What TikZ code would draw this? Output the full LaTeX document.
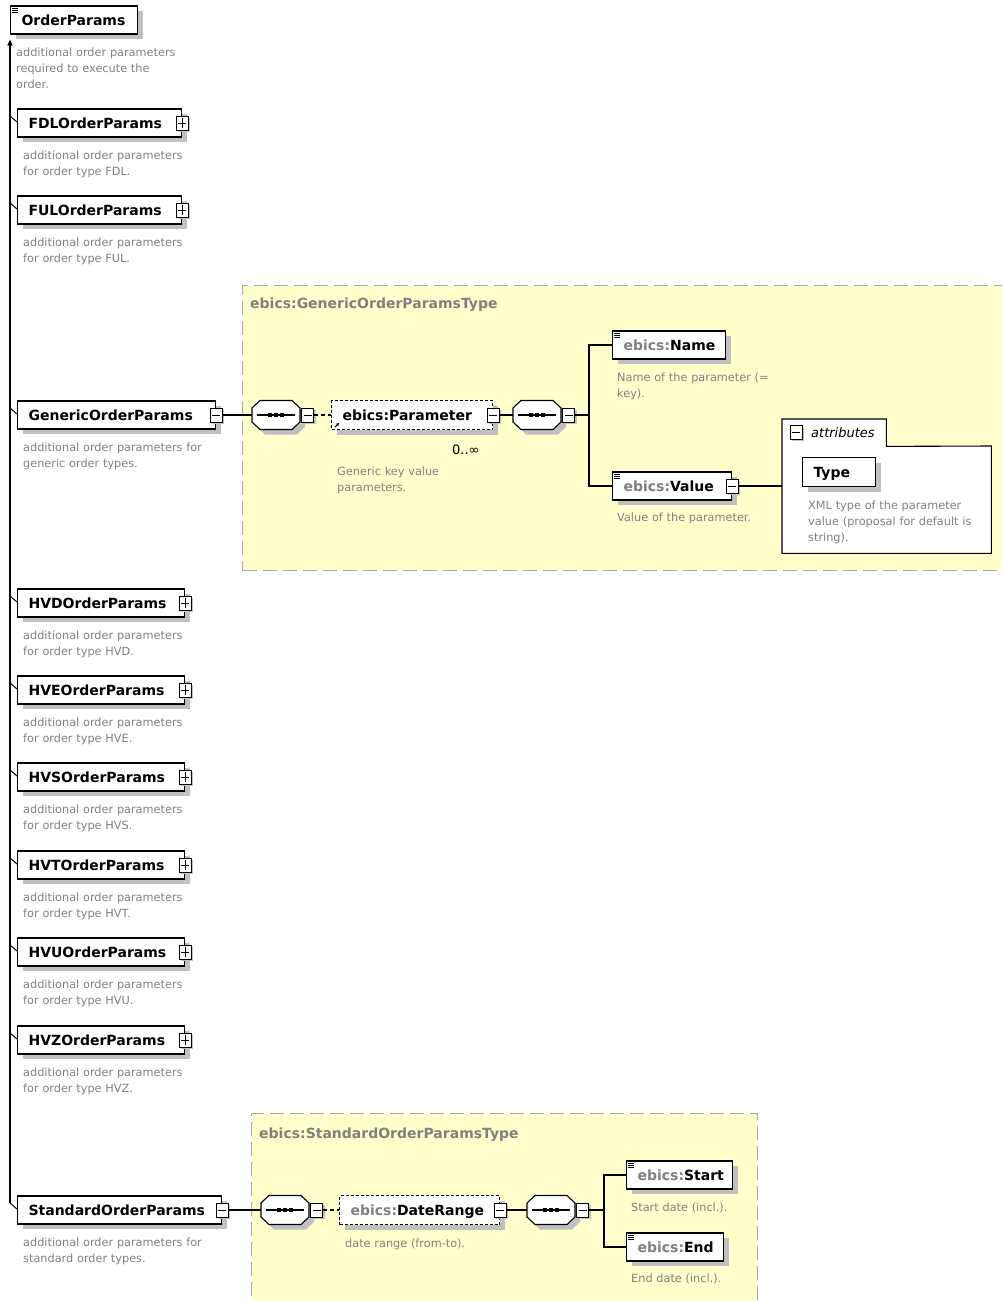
\documentclass[tikz,border=0pt]{standalone}
\usepackage{fontspec}
\setmainfont{DejaVu Sans}
\usetikzlibrary{arrows.meta}
\definecolor{ylw}{HTML}{FFFFCC}
\definecolor{shgray}{HTML}{C0C0C0}
\definecolor{dgray}{HTML}{808080}
\definecolor{bgray}{HTML}{A8A8A8}
\tikzset{
  shad/.style={preaction={fill=shgray, draw=none, transform canvas={shift={(#1,-#1)}}}},
  elem/.style={draw, fill=white, line width=1.1pt, inner xsep=11pt, inner ysep=0pt,
    minimum height=28pt, anchor=west, align=left, text width=#1, text height=10pt,
    text depth=0pt, font=\bfseries\fontsize{14}{16}\selectfont, shad=5pt},
  elemdash/.style={elem=#1, dash pattern=on 3pt off 2pt, minimum height=29pt},
  xbox/.style={draw, fill=white, line width=0.9pt, minimum width=12pt, minimum height=14pt,
    inner sep=0pt, shad=2pt},
  xminus/.style={xbox, path picture={\draw[line width=0.9pt]
      ([xshift=2pt]path picture bounding box.west) -- ([xshift=-2pt]path picture bounding box.east);}},
  xplus/.style={xbox, path picture={\draw[line width=0.9pt]
      ([xshift=2pt]path picture bounding box.west) -- ([xshift=-2pt]path picture bounding box.east);
      \draw[line width=0.9pt]
      ([yshift=-2pt]path picture bounding box.north) -- ([yshift=2pt]path picture bounding box.south);}},
  desc/.style={anchor=base west, align=left, inner sep=0pt, text=dgray, text width=#1,
    font=\fontsize{11.3}{16}\selectfont},
  ttl/.style={anchor=base west, inner sep=0pt, text=dgray, font=\bfseries\fontsize{14}{16}\selectfont},
  typebox/.style={draw=bgray, fill=ylw, line width=1.2pt, dash pattern=on 14pt off 6pt,
    anchor=north west, inner sep=0pt},
  conn/.style={line width=1.1pt}
}
\newcommand\docicon[1]{%
  \foreach \dy in {2.5,4.5,6.5}{\draw[line width=0.7pt] ([shift={(2,\dy)}]#1.north west) -- ++(6,0);}}
\newcommand\seqcomp[3]{%
  \node[minimum width=48pt, minimum height=29pt, inner sep=0pt] (#1) at (#2,#3) {};
  \begin{scope}[shift={(#2,#3)}]
    \fill[shgray] (-19,-2)--(-19,12)--(-11,19.5)--(21,19.5)--(29,12)--(29,-2)--(21,-9.5)--(-11,-9.5)--cycle;
    \draw[fill=white, line width=1.1pt] (-24,-7)--(-24,7)--(-16,14.5)--(16,14.5)--(24,7)--(24,-7)--(16,-14.5)--(-16,-14.5)--cycle;
    \draw[line width=1.1pt] (-19,0)--(19,0);
    \foreach \dx in {-6,0,6} \fill (\dx-2.2,-2.2) rectangle (\dx+2.2,2.2);
  \end{scope}}
\begin{document}
\begin{tikzpicture}[x=1pt,y=-1pt]
\useasboundingbox (0,0) rectangle (1002,1301);
\clip (0,0) rectangle (1002,1301);

% type containers
\node[typebox, minimum width=770pt, minimum height=285pt] (gtype) at (242,285) {};
\node[ttl] (gtitle) at (250,308) {ebics:GenericOrderParamsType};
\node[typebox, minimum width=506pt, minimum height=200pt] (stype) at (251,1113) {};
\node[ttl] (stitle) at (259,1138) {ebics:StandardOrderParamsType};

% root
\node[elem=105pt] (op) at (10,20) {OrderParams};
\docicon{op}
\node[desc=180pt] (dop) at (16,56) {additional order parameters\\required to execute the\\order.};

% children
\node[elem=142pt] (fdl) at (17,123) {FDLOrderParams};
\node[xplus] (fdlx) at (fdl.east) {};
\node[desc=180pt] (dfdl) at (23,159) {additional order parameters\\for order type FDL.};

\node[elem=142pt] (ful) at (17,210) {FULOrderParams};
\node[xplus] (fulx) at (ful.east) {};
\node[desc=180pt] (dful) at (23,246) {additional order parameters\\for order type FUL.};

\node[elem=176pt] (gen) at (17,415) {GenericOrderParams};
\node[xminus] (genx) at (gen.east) {};
\node[desc=200pt] (dgen) at (23,451) {additional order parameters for\\generic order types.};

\node[elem=145pt] (hvd) at (17,603) {HVDOrderParams};
\node[xplus] (hvdx) at (hvd.east) {};
\node[desc=180pt] (dhvd) at (23,639) {additional order parameters\\for order type HVD.};

\node[elem=145pt] (hve) at (17,690) {HVEOrderParams};
\node[xplus] (hvex) at (hve.east) {};
\node[desc=180pt] (dhve) at (23,726) {additional order parameters\\for order type HVE.};

\node[elem=145pt] (hvs) at (17,777) {HVSOrderParams};
\node[xplus] (hvsx) at (hvs.east) {};
\node[desc=180pt] (dhvs) at (23,813) {additional order parameters\\for order type HVS.};

\node[elem=145pt] (hvt) at (17,865) {HVTOrderParams};
\node[xplus] (hvtx) at (hvt.east) {};
\node[desc=180pt] (dhvt) at (23,901) {additional order parameters\\for order type HVT.};

\node[elem=145pt] (hvu) at (17,952) {HVUOrderParams};
\node[xplus] (hvux) at (hvu.east) {};
\node[desc=180pt] (dhvu) at (23,988) {additional order parameters\\for order type HVU.};

\node[elem=145pt] (hvz) at (17,1040) {HVZOrderParams};
\node[xplus] (hvzx) at (hvz.east) {};
\node[desc=180pt] (dhvz) at (23,1076) {additional order parameters\\for order type HVZ.};

\node[elem=182pt] (std) at (17,1210) {StandardOrderParams};
\node[xminus] (stdx) at (std.east) {};
\node[desc=200pt] (dstd) at (23,1246) {additional order parameters for\\standard order types.};

% trunk
\coordinate (trunkend) at (10,1203);
\draw[conn, -{Triangle[length=6pt,width=5pt]}] (trunkend) -- ([yshift=-5pt]op.south west);
\foreach \n in {fdl,ful,gen,hvd,hve,hvs,hvt,hvu,hvz,std}
  \draw[line width=1pt] ([shift={(-7,-7)}]\n.west) -- ([shift={(0,-1)}]\n.west);

% generic content
\seqcomp{s1}{276}{415}
\node[xminus, anchor=west] (s1x) at ([xshift=1pt]s1.east) {};
\node[elemdash=139pt, minimum height=29pt] (param) at (331,415) {ebics:Parameter};
\node[xminus] (paramx) at (param.east) {};
\draw[line width=1pt, -{Stealth[length=3pt,width=3.5pt]}] ([shift={(4,-3)}]param.south west) -- ++(4,-4);
\node[anchor=base west, inner sep=0pt, font=\fontsize{13}{15}\selectfont] (occ) at (452,454) {0..∞};
\node[desc=150pt] (dparam) at (337,475) {Generic key value\\parameters.};
\seqcomp{s2}{537}{415}
\node[xminus, anchor=west] (s2x) at ([xshift=1pt]s2.east) {};
\coordinate (gj) at (589,415);
\node[elem=91pt] (name) at (612,345) {{\color{dgray}ebics:}Name};
\docicon{name}
\node[desc=180pt] (dname) at (617,381) {Name of the parameter (=\\key).};
\node[elem=97pt] (value) at (612,486) {{\color{dgray}ebics:}Value};
\docicon{value}
\node[xminus] (valx) at (value.east) {};
\node[desc=180pt] (dvalue) at (617,521) {Value of the parameter.};

% attributes
\node[anchor=north west, minimum width=104pt, minimum height=27pt, inner sep=0pt] (attrtab) at (782,419) {};
\node[anchor=north west, minimum width=209pt, minimum height=107pt, inner sep=0pt] (attr) at (782,446) {};
\draw[fill=white, line width=1.1pt] (attr.south west) -- (attrtab.north west) -- (attrtab.north east)
  -- (attrtab.south east) -- (attr.north east) -- (attr.south east) -- cycle;
\node[xminus, shad=0pt] (attrx) at (796,432) {};
\node[anchor=base west, inner sep=0pt, font=\itshape\fontsize{13}{15}\selectfont] (attrlbl) at (811,437) {attributes};
\node[elem=51pt, minimum height=29pt] (type) at (802,472) {Type};
\node[desc=180pt] (dtype) at (808,509) {XML type of the parameter\\value (proposal for default is\\string).};

% generic connectors
\draw[conn] (genx.east) -- (s1.west);
\draw[conn, dash pattern=on 4pt off 3pt] (s1x.east) -- (param.west);
\draw[conn] (paramx.east) -- (s2.west);
\draw[conn] (s2x.east) -- (gj);
\draw[conn] (name.west) -| (gj) |- (value.west);
\draw[conn] (valx.east) -- (valx.east -| attr.west);

% standard content
\seqcomp{s3}{285}{1210}
\node[xminus, anchor=west] (s3x) at ([xshift=1pt]s3.east) {};
\node[elemdash=138pt] (dr) at (339,1210) {{\color{dgray}ebics:}DateRange};
\node[xminus] (drx) at (dr.east) {};
\node[desc=180pt] (ddr) at (345,1247) {date range (from-to).};
\seqcomp{s4}{551}{1210}
\node[xminus, anchor=west] (s4x) at ([xshift=1pt]s4.east) {};
\coordinate (sj) at (604,1210);
\node[elem=84pt] (start) at (626,1175) {{\color{dgray}ebics:}Start};
\docicon{start}
\node[desc=150pt] (dstart) at (631,1211) {Start date (incl.).};
\node[elem=75pt] (end) at (626,1247) {{\color{dgray}ebics:}End};
\docicon{end}
\node[desc=150pt] (dend) at (631,1282) {End date (incl.).};

% standard connectors
\draw[conn] (stdx.east) -- (s3.west);
\draw[conn, dash pattern=on 4pt off 3pt] (s3x.east) -- (dr.west);
\draw[conn] (drx.east) -- (s4.west);
\draw[conn] (s4x.east) -- (sj);
\draw[conn] (start.west) -| (sj) |- (end.west);
\end{tikzpicture}
\end{document}
